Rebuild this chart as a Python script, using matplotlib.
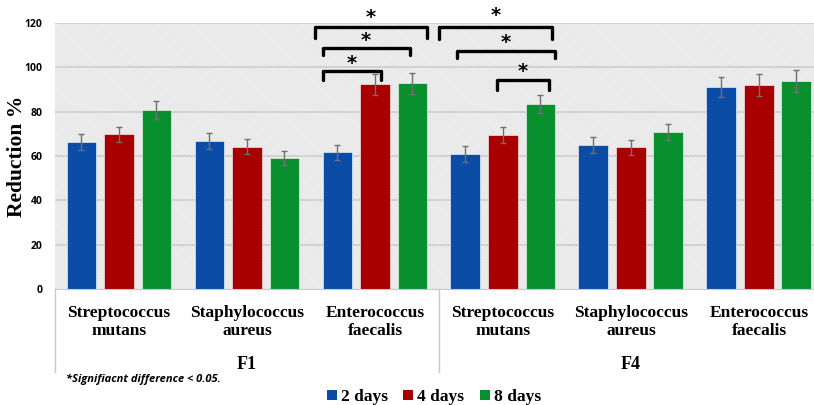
import numpy as np
import matplotlib.pyplot as plt
from matplotlib.patches import Rectangle, Patch

# Bacteria and formulations
bacteria = ['Streptococcus\nmutans', 'Staphylococcus\naureus', 'Enterococcus\nfaecalis'] * 2
formulations = ['F1', 'F4']
days = ['2 days', '4 days', '8 days']

# Reduction % for each time point
red_2d = [66.3, 66.9, 61.6, 61.0, 65.1, 91.3]
red_4d = [69.8, 64.2, 92.3, 69.6, 63.9, 92.2]
red_8d = [80.6, 59.2, 92.8, 83.4, 70.8, 93.8]
err_2d = [3.7, 3.6, 3.5, 3.6, 3.6, 4.5]
err_4d = [3.4, 3.3, 4.7, 3.6, 3.5, 5.0]
err_8d = [4.1, 3.2, 4.8, 4.2, 3.8, 5.0]

# significance brackets: group, left, right, top, foot, star
brackets = [
    (2, -0.47, 0.41, 118.3, 113.2, 122.3),
    (2, -0.41, 0.27, 108.6, 105.5, 112.3),
    (2, -0.41, 0.05, 98.3, 94.3, 101.8),
    (3, -0.50, 0.38, 118.0, 113.0, 123.3),
    (3, -0.36, 0.41, 107.5, 104.0, 111.3),
    (3, -0.05, 0.36, 94.3, 89.8, 98.3),
]

colors = ['#0b4da6', '#a80000', '#08902f']
serif = 'Liberation Serif'
plt.rcParams['hatch.linewidth'] = 0.6

fig = plt.figure(figsize=(8.14, 4.05), dpi=100)
ax = fig.add_axes([55/814, 116/405, 759/814, 266/405])

x = np.arange(len(bacteria))
w = 0.234
off = 0.293

ax.add_patch(Rectangle((0, 0), 1, 1, transform=ax.transAxes, facecolor='#f4f4f4',
                       edgecolor='#dedede', hatch='\\' * 12, lw=0, zorder=0))
for yv in range(20, 121, 20):
    ax.axhline(yv, color='#d2d2d2', lw=1.4, zorder=1)

for i, (vals, errs) in enumerate([(red_2d, err_2d), (red_4d, err_4d), (red_8d, err_8d)]):
    ax.bar(x + (i - 1) * off, vals, w, color=colors[i], edgecolor='white', lw=0.4, zorder=2,
           yerr=errs, error_kw=dict(ecolor='#707070', elinewidth=1.0, capsize=2.5, capthick=1.0))

for g, l, r, top, foot, star in brackets:
    ax.plot([g + l, g + l, g + r, g + r], [foot, top, top, foot], color='black', lw=2.4,
            solid_joinstyle='round', solid_capstyle='round', clip_on=False, zorder=4)
    ax.text(g + (l + r) / 2, star, '*', ha='center', va='center', fontsize=14,
            fontweight='bold', family='DejaVu Sans', clip_on=False, zorder=4)

ax.set_xlim(-0.5, 5.43)
ax.set_ylim(0, 120)
ax.set_yticks(range(0, 121, 20))
ax.set_yticklabels([str(v) for v in range(0, 121, 20)], family='Open Sans',
                   fontweight='bold', fontsize=7.5)
ax.tick_params(axis='y', length=0, pad=9)
ax.set_xticks([])
for s in ['top', 'right', 'left']:
    ax.spines[s].set_visible(False)
ax.spines['bottom'].set_color('#c8c8c8')

# category labels and group separators
for xi, lab in zip(x, bacteria):
    ax.text(xi, -0.124, lab, transform=ax.get_xaxis_transform(), ha='center', va='center',
            family=serif, fontweight='bold', fontsize=12.5, linespacing=1.1)
for gi, f in enumerate(formulations):
    ax.text(1 + 3 * gi, -0.282, f, transform=ax.get_xaxis_transform(), ha='center',
            va='center', family=serif, fontweight='bold', fontsize=13)
for xs in [-0.5, 2.5]:
    ax.plot([xs, xs], [0, -0.312], transform=ax.get_xaxis_transform(), color='#c8c8c8',
            lw=1.0, clip_on=False)

fig.text(17/814, 0.5 * (266 + 2 * 116) / 405, 'Reduction %', rotation=90, ha='center',
         va='center', family=serif, fontweight='bold', fontsize=15.5)
fig.text(66/814, 26/405, '*Signifiacnt difference < 0.05.', ha='left', va='center',
         family='Open Sans', fontweight='bold', style='italic', fontsize=8)

handles = [Patch(facecolor=c, label=d) for c, d in zip(colors, days)]
fig.legend(handles=handles, loc='center', bbox_to_anchor=(434/814, 8/405), ncol=3,
           frameon=False, handlelength=0.55, handleheight=0.55, handletextpad=0.25,
           columnspacing=0.9, prop=dict(family=serif, weight='bold', size=12.5))

fig.savefig('out.png', dpi=100)
